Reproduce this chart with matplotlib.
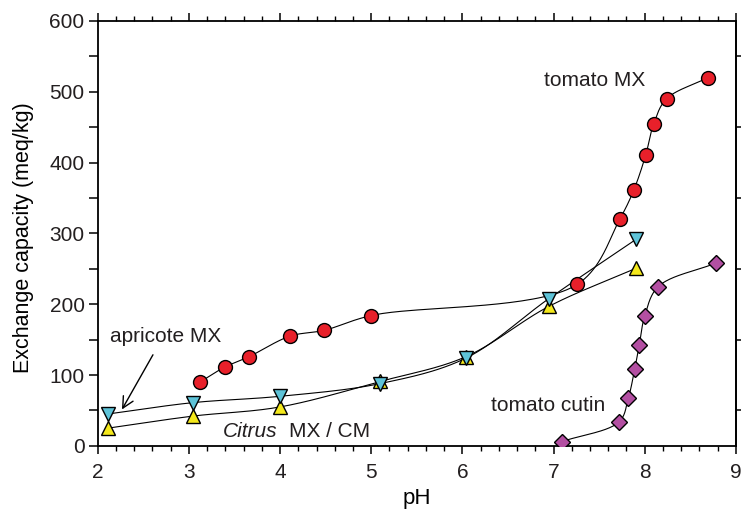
import numpy as np
import matplotlib
matplotlib.use('Agg')
import matplotlib.pyplot as plt
from matplotlib.ticker import MultipleLocator, NullFormatter

plt.rcParams['font.family'] = ['Liberation Sans', 'DejaVu Sans']
plt.rcParams['text.color'] = '#231f20'
plt.rcParams['xtick.labelcolor'] = '#231f20'
plt.rcParams['ytick.labelcolor'] = '#231f20'

# tomato fruit cuticular membrane
TOMATO_MX_PH = [3.12, 3.39, 3.66, 4.11, 4.48, 5.00, 7.26, 7.73, 7.88, 8.01, 8.10, 8.24, 8.70]
TOMATO_MX_CAP = [90, 111, 126, 155, 163, 184, 228, 321, 361, 410, 455, 490, 520]

# apricot cuticular membrane
APRICOT_PH = [2.11, 3.04, 4.00, 5.10, 6.04, 6.95, 7.91]
APRICOT_CAP = [45, 61, 70, 88, 124, 208, 292]

# citrus MX/CM
CITRUS_PH = [2.11, 3.04, 4.00, 5.10, 6.04, 6.95, 7.91]
CITRUS_CAP = [25, 42, 55, 91, 126, 197, 251]

# isolated tomato cutin
CUTIN_PH = [7.09, 7.72, 7.82, 7.89, 7.94, 8.00, 8.15, 8.78]
CUTIN_CAP = [6, 34, 67, 108, 142, 183, 225, 258]

RIGHT_TICKS = [50, 150, 250, 350, 450, 550]


def smooth_curve(ax, xs, ys, n=40):
    # centripetal Catmull-Rom, done in display coords so bends look right
    pts = ax.transData.transform(np.column_stack([xs, ys]))
    p = np.vstack([2 * pts[0] - pts[1], pts, 2 * pts[-1] - pts[-2]])
    out = []
    for i in range(1, len(p) - 2):
        p0, p1, p2, p3 = p[i - 1], p[i], p[i + 1], p[i + 2]
        t0 = 0.0
        t1 = t0 + np.linalg.norm(p1 - p0) ** 0.5
        t2 = t1 + np.linalg.norm(p2 - p1) ** 0.5
        t3 = t2 + np.linalg.norm(p3 - p2) ** 0.5
        t = np.linspace(t1, t2, n)[:, None]
        a1 = (t1 - t) / (t1 - t0) * p0 + (t - t0) / (t1 - t0) * p1
        a2 = (t2 - t) / (t2 - t1) * p1 + (t - t1) / (t2 - t1) * p2
        a3 = (t3 - t) / (t3 - t2) * p2 + (t - t2) / (t3 - t2) * p3
        b1 = (t2 - t) / (t2 - t0) * a1 + (t - t0) / (t2 - t0) * a2
        b2 = (t3 - t) / (t3 - t1) * a2 + (t - t1) / (t3 - t1) * a3
        c = (t2 - t) / (t2 - t1) * b1 + (t - t1) / (t2 - t1) * b2
        out.append(c if i == 1 else c[1:])
    curve = ax.transData.inverted().transform(np.vstack(out))
    return curve[:, 0], curve[:, 1]


def main():
    fig = plt.figure(figsize=(7.41, 5.09), dpi=100)
    ax = fig.add_axes([0.132, 0.124, 0.861, 0.835])
    ax.set_xlim(2, 9)
    ax.set_ylim(0, 600)

    series = [
        (TOMATO_MX_PH, TOMATO_MX_CAP, 'o', '#e8202a', 10),
        (CUTIN_PH, CUTIN_CAP, 'D', '#b34fa2', 8.5),
        (CITRUS_PH, CITRUS_CAP, '^', '#f4e81c', 10.5),
        (APRICOT_PH, APRICOT_CAP, 'v', '#5ec3d8', 10.5),
    ]
    for xs, ys, mk, col, ms in series:
        cx, cy = smooth_curve(ax, xs, ys)
        ax.plot(cx, cy, color='black', lw=0.8, zorder=2)
    for xs, ys, mk, col, ms in series:
        ax.plot(xs, ys, ls='none', marker=mk, ms=ms, mfc=col, mec='black',
                mew=1.0, zorder=3)

    ax.text(6.90, 516, 'tomato MX', fontsize=15, va='center')
    ax.text(6.31, 57, 'tomato cutin', fontsize=15, va='center')
    ax.text(2.13, 155, 'apricote MX', fontsize=15, va='center')
    ax.text(3.37, 21, 'Citrus', fontsize=15, style='italic', va='center')
    ax.text(4.10, 21, 'MX / CM', fontsize=15, va='center')
    ax.annotate('', xy=(2.25, 48), xytext=(2.62, 132),
                arrowprops=dict(arrowstyle='->', lw=1.0, color='black',
                                mutation_scale=20))

    ax.set_xlabel('pH', fontsize=16)
    ax.xaxis.set_label_coords(0.5, -0.1)
    ax.set_ylabel('Exchange capacity (meq/kg)', fontsize=15.5)
    ax.yaxis.set_label_coords(-0.1, 0.49)

    ax.xaxis.set_major_locator(MultipleLocator(1))
    ax.xaxis.set_minor_locator(MultipleLocator(0.2))
    ax.yaxis.set_major_locator(MultipleLocator(100))
    ax.yaxis.set_minor_locator(MultipleLocator(50))
    ax.tick_params(axis='x', which='major', direction='out', top=True,
                   length=6, width=1.1, labelsize=15, pad=6)
    ax.tick_params(axis='x', which='minor', direction='out', top=True,
                   length=3.5, width=1.0)
    ax.tick_params(axis='y', which='both', direction='out', right=False,
                   length=6.5, width=1.1, labelsize=15, pad=3)

    sec = ax.secondary_yaxis('right')
    sec.set_yticks(RIGHT_TICKS)
    sec.yaxis.set_major_formatter(NullFormatter())
    sec.tick_params(direction='out', length=5, width=1.1)
    sec.spines['right'].set_linewidth(1.3)

    for s in ax.spines.values():
        s.set_linewidth(1.3)

    fig.savefig('out.png', dpi=100)


if __name__ == '__main__':
    main()
